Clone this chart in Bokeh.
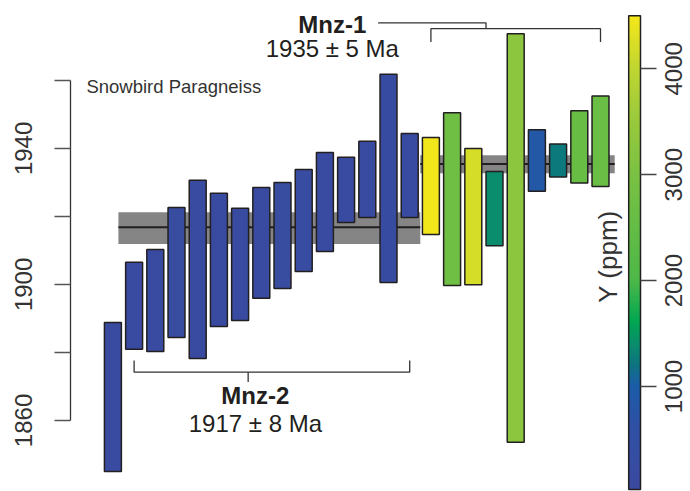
import math
import numpy as np
from bokeh.plotting import figure
from bokeh.models import Range1d, LinearAxis, FixedTicker, LinearColorMapper, ColumnDataSource
from bokeh.transform import transform
from bokeh.core.properties import value
from bokeh.embed import file_html
from bokeh.resources import INLINE

# ---------------- data ----------------
grain = list(range(1, 25))
age_hi = [1888.8, 1906.5, 1910.3, 1922.6, 1930.6, 1926.8, 1922.4, 1928.5, 1930.0, 1933.8,
          1938.8, 1937.4, 1942.1, 1961.8, 1944.4, 1943.2, 1950.5, 1940.0, 1933.2, 1973.7,
          1945.5, 1941.3, 1951.1, 1955.4]
age_lo = [1845.0, 1880.9, 1880.3, 1884.4, 1878.2, 1887.6, 1889.4, 1895.9, 1898.8, 1903.8,
          1909.7, 1918.2, 1919.7, 1900.6, 1919.7, 1914.7, 1899.7, 1899.9, 1911.4, 1853.6,
          1927.4, 1931.6, 1929.8, 1928.8]
y_ppm = [150, 120, 180, 200, 160, 140, 170, 130, 190, 210,
         150, 170, 140, 260, 180, 4450, 2750, 4200, 1400, 3300,
         850, 1250, 2600, 2650]

group_name = ["Mnz-2", "Mnz-1"]
group_label = ["1917 \u00b1 8 Ma", "1935 \u00b1 5 Ma"]
group_mean = [1916.8, 1935.4]
group_band_lo = [1911.9, 1932.7]
group_band_hi = [1921.2, 1938.0]
group_x0 = [1.26, 15.5]
group_x1 = [15.5, 24.67]
group_first = [2, 16]
group_last = [15, 24]

age_ticks = [1860, 1880, 1900, 1920, 1940, 1960]
age_label_ticks = [1860, 1900, 1940]
age_label_text = ["1860", "1900", "1940"]
ppm_ticks = [1000, 2000, 3000, 4000]
ppm_tick_text = ["1000", "2000", "3000", "4000"]
ppm_min, ppm_max = 27, 4500

# ---------------- colour map ----------------
stops = [(27, "#3b4a9f"), (600, "#3050a4"), (1000, "#1b5ca9"), (1200, "#0d7480"),
         (1400, "#0a8e6c"), (1600, "#00a651"), (2000, "#4db848"), (3000, "#7ac143"),
         (3500, "#98c93c"), (4000, "#bfd631"), (4500, "#f5e71a")]


def hex2rgb(h):
    return [int(h[i:i + 2], 16) for i in (1, 3, 5)]


sv = np.array([s[0] for s in stops], float)
sc = np.array([hex2rgb(s[1]) for s in stops], float)
vals = np.linspace(ppm_min, ppm_max, 256)
palette = []
for v in vals:
    rgb = [np.interp(v, sv, sc[:, k]) for k in range(3)]
    palette.append("#%02x%02x%02x" % tuple(int(round(c)) for c in rgb))
mapper = LinearColorMapper(palette=palette, low=ppm_min, high=ppm_max)

FONT = "Liberation Sans"
INK = "#231f20"
GREY_TXT = "#333333"

# layout positions (in grain-index units)
AXIS_X = -1.0          # left age axis
CB_X0, CB_X1 = 25.33, 25.887   # colour bar
LEFT_LAB_X = -3.24
RIGHT_LAB_X = 27.42

# ---------------- figure ----------------
p = figure(width=690, height=491, x_range=Range1d(-4.302, 28.245), y_range=Range1d(1839.1, 1983.5),
           output_backend="svg", toolbar_location=None, x_axis_location=None, y_axis_location=None,
           min_border_left=0, min_border_right=0, min_border_top=0, min_border_bottom=0,
           outline_line_color=None, background_fill_color="white", border_fill_color="white")
p.xgrid.visible = False
p.ygrid.visible = False
p.extra_y_ranges = {"ppm": Range1d(8.5, 4645)}

lax = LinearAxis(ticker=FixedTicker(ticks=age_ticks), fixed_location=AXIS_X,
                 major_label_overrides={t: "" for t in age_ticks},
                 bounds=(1860, 1960), major_tick_out=16, major_tick_in=0,
                 minor_tick_line_color=None,
                 axis_line_color="#333333", axis_line_width=1.3,
                 major_tick_line_color="#555555", major_tick_line_width=1.3,
                 major_label_text_font_size="1px")
p.add_layout(lax, "left")

rax = LinearAxis(y_range_name="ppm", ticker=FixedTicker(ticks=ppm_ticks), fixed_location=CB_X1,
                 major_label_overrides={t: "" for t in ppm_ticks}, axis_line_color=None,
                 major_tick_out=16, major_tick_in=0, minor_tick_line_color=None,
                 major_tick_line_color="#444444", major_tick_line_width=1.3,
                 major_label_text_font_size="1px")
p.add_layout(rax, "right")

# tick labels (rotated, reading upwards, centred on the ticks)
p.text(x=[LEFT_LAB_X] * len(age_label_ticks), y=age_label_ticks, text=age_label_text,
       angle=math.pi / 2, text_font=value(FONT), text_font_size="24px",
       text_align="center", text_baseline="middle", text_color=GREY_TXT)
p.text(x=[RIGHT_LAB_X] * len(ppm_ticks), y=ppm_ticks, text=ppm_tick_text, y_range_name="ppm",
       angle=math.pi / 2, text_font=value(FONT), text_font_size="24px",
       text_align="center", text_baseline="middle", text_color=GREY_TXT)

# weighted-mean bands and lines
gsrc = ColumnDataSource(dict(x0=group_x0, x1=group_x1, lo=group_band_lo, hi=group_band_hi,
                             m=group_mean))
p.quad(left="x0", right="x1", bottom="lo", top="hi", source=gsrc,
       fill_color="#858585", line_color=None)
p.segment(x0="x0", x1="x1", y0="m", y1="m", source=gsrc, line_color=INK, line_width=2)

# analyses
src = ColumnDataSource(dict(g=grain, lo=age_lo, hi=age_hi, y=y_ppm))
p.vbar(x="g", width=0.8, bottom="lo", top="hi", source=src,
       fill_color=transform("y", mapper), line_color=INK, line_width=1.5)

# brackets
BR = "#333333"
p.line(x=[group_first[0], group_first[0], group_last[0], group_last[0]],
       y=[1877.6, 1874.2, 1874.2, 1877.6], line_color=BR, line_width=1.3)
p.line(x=[7.38, 7.38], y=[1874.2, 1871.3], line_color=BR, line_width=1.3)
p.line(x=[group_first[1], group_first[1], group_last[1], group_last[1]],
       y=[1971.3, 1975.2, 1975.2, 1971.3], line_color=BR, line_width=1.3)
p.line(x=[13.51, 18.6, 18.6], y=[1976.9, 1976.9, 1975.2], line_color=BR, line_width=1.3)

# group labels
p.text(x=[7.72, 11.35], y=[1867.2, 1976.3], text=group_name, text_font=value(FONT),
       text_font_style="bold", text_font_size="24px", text_align="center",
       text_baseline="middle", text_color=INK)
p.text(x=[7.72, 11.35], y=[1859.2, 1969.4], text=group_label, text_font=value(FONT),
       text_font_size="24px", text_align="center", text_baseline="middle", text_color=INK)

p.text(x=[-0.25], y=[1958.2], text=["Snowbird Paragneiss"], text_font=value(FONT),
       text_font_size="18.5px", text_align="left", text_baseline="middle", text_color=GREY_TXT)

p.text(x=[24.33], y=[1908.2], text=["Y (ppm)"], angle=math.pi / 2, text_font=value(FONT),
       text_font_size="26px", text_align="center", text_baseline="middle", text_color=GREY_TXT)

# colour bar
p.image(image=[np.linspace(ppm_min, ppm_max, 400).reshape(400, 1)], x=CB_X0, y=ppm_min,
        dw=CB_X1 - CB_X0, dh=ppm_max - ppm_min, color_mapper=mapper, y_range_name="ppm")
p.quad(left=[CB_X0], right=[CB_X1], bottom=[ppm_min], top=[ppm_max], fill_color=None,
       line_color=INK, line_width=1.5, y_range_name="ppm")

open("out.html", "w").write(file_html(p, INLINE))
